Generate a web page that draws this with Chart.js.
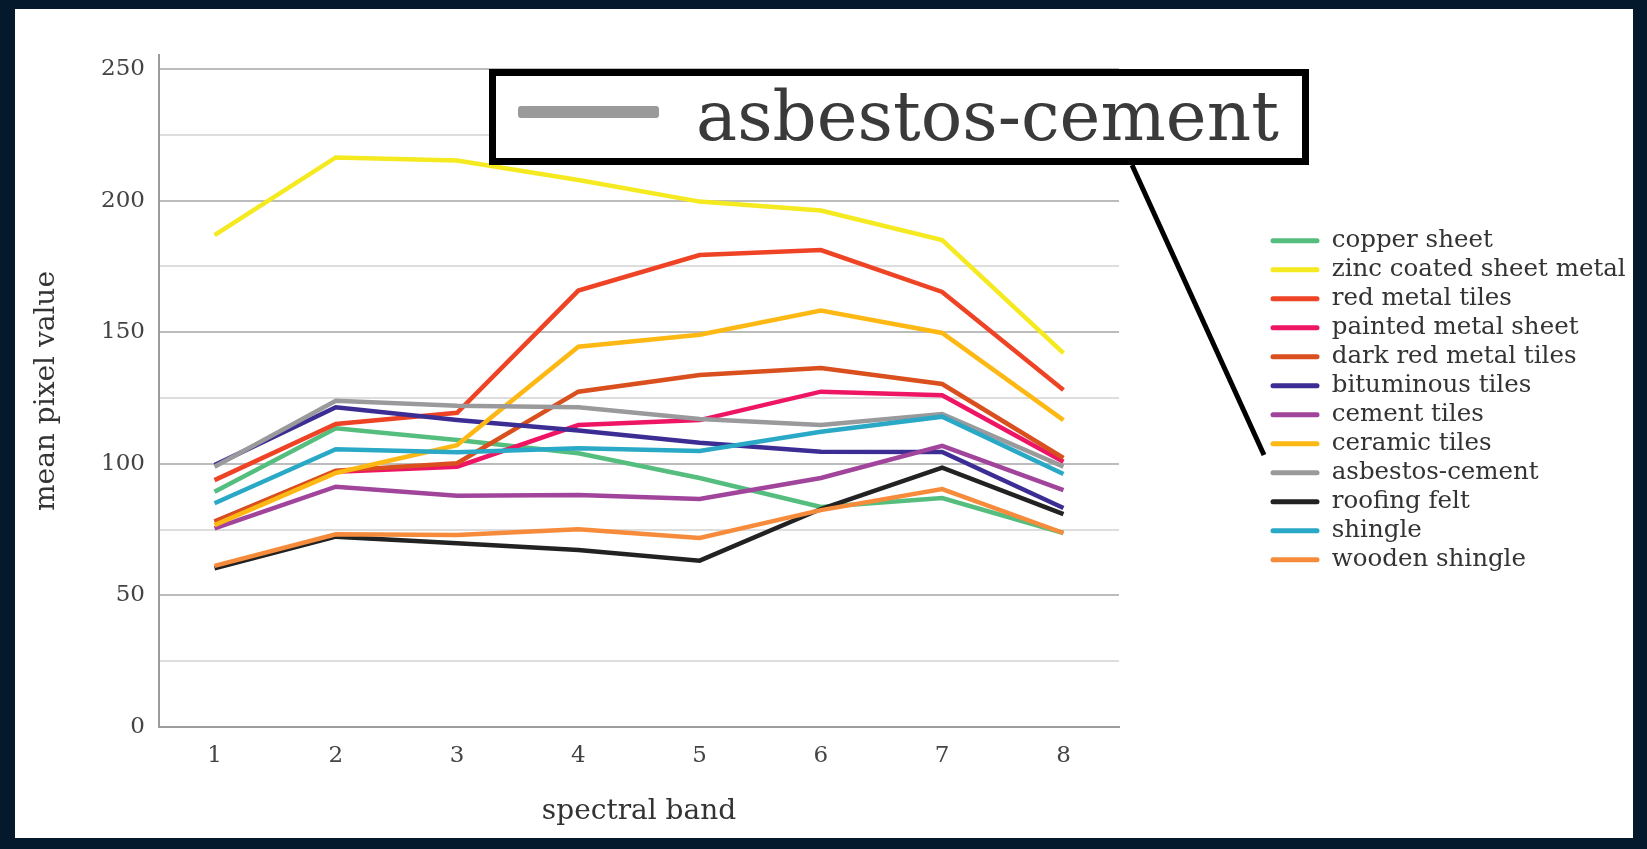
<!DOCTYPE html>
<html>
<head>
<meta charset="utf-8">
<script src="https://cdn.jsdelivr.net/npm/chart.js@4.4.1/dist/chart.umd.min.js"></script>
<style>
  html, body { margin: 0; padding: 0; overflow: hidden; background: #05192c; }
  #card { position: absolute; left: 15px; top: 9px; width: 1618px; height: 829px; background: #fff; }
  #chart { position: absolute; left: 0; top: 0; }
  #callout {
    position: absolute; left: 489px; top: 69px; width: 820px; height: 96px;
    box-sizing: border-box; border: 7px solid #000; background: #fff;
  }
  #swatch { position: absolute; left: 518px; top: 106px; width: 141px; height: 12px; background: #9a9a9a; border-radius: 3px; }
  #calloutText {
    position: absolute; left: 696px; top: 82px; font-family: "DejaVu Serif", serif;
    font-size: 69px; line-height: 69px; color: #3a3a3a; white-space: nowrap;
  }
  #pointer { position: absolute; left: 0; top: 0; }
</style>
</head>
<body>
<div id="card"></div>
<canvas id="chart" width="1647" height="849"></canvas>
<div id="callout"></div>
<div id="swatch"></div>
<div id="calloutText">asbestos-cement</div>
<svg id="pointer" width="1647" height="849"><line x1="1132" y1="165" x2="1264" y2="455" stroke="#000" stroke-width="5"/></svg>
<script>
// spectral bands on the x axis
const bands = [1, 2, 3, 4, 5, 6, 7, 8];
// y ticks (labels only every 50)
const yTicks = [0, 25, 50, 75, 100, 125, 150, 175, 200, 225, 250];

const names = ['copper sheet', 'zinc coated sheet metal', 'red metal tiles', 'painted metal sheet',
  'dark red metal tiles', 'bituminous tiles', 'cement tiles', 'ceramic tiles',
  'asbestos-cement', 'roofing felt', 'shingle', 'wooden shingle'];
const colors = ['#55be7e', '#f5e91f', '#ee4325', '#ee1664', '#d94f1e', '#3b2d94',
  '#a1449b', '#fdb813', '#9a9a9c', '#222222', '#2aa9c7', '#f68c3b'];

// mean pixel values per band
const copperSheet = [89.4, 113.5, 109, 104, 94.6, 83.6, 87, 73.7];
const zincSheet = [186.9, 216.4, 215.2, 207.8, 199.6, 196.2, 185, 142];
const redMetalTiles = [93.8, 115.1, 119.4, 165.8, 179.3, 181.2, 165.3, 128];
const paintedSheet = [78, 97, 98.9, 114.7, 116.6, 127.4, 126, 100.8];
const darkRedTiles = [78, 97.4, 100.2, 127.4, 133.7, 136.4, 130.3, 102.2];
const bituminousTiles = [99.5, 121.5, 116.6, 112.6, 108, 104.6, 104.5, 83.2];
const cementTiles = [75.5, 91.3, 87.9, 88.1, 86.6, 94.6, 106.8, 90];
const ceramicTiles = [76.7, 96.5, 107.1, 144.5, 149, 158.2, 149.7, 116.6];
const asbestosCement = [98.9, 123.9, 122, 121.5, 117, 114.7, 118.9, 98.9];
const roofingFelt = [60.3, 72.3, 69.8, 67.2, 63.2, 82.8, 98.5, 80.9];
const shingle = [85, 105.5, 104.4, 105.9, 104.9, 112.2, 117.9, 96.1];
const woodenShingle = [61.2, 73.2, 72.9, 75.1, 71.8, 82.4, 90.4, 73.7];

const series = [copperSheet, zincSheet, redMetalTiles, paintedSheet, darkRedTiles, bituminousTiles,
  cementTiles, ceramicTiles, asbestosCement, roofingFelt, shingle, woodenShingle];

const serif = 'DejaVu Serif';

// put the legend where the original has it
const legendSpot = {
  id: 'legendSpot',
  beforeLayout(chart) {
    const lg = chart.legend;
    if (lg && !lg._patched) {
      const fit = lg.fit;
      lg.fit = function () { fit.call(this); this.width = 528; };
      lg._patched = true;
    }
  },
  afterLayout(chart) {
    const lg = chart.legend;
    const w = lg.width, h = lg.height;
    lg.left = 1266; lg.right = lg.left + w;
    lg.top = 224; lg.bottom = lg.top + h;
  }
};

const ctx = document.getElementById('chart').getContext('2d');
new Chart(ctx, {
  type: 'line',
  data: {
    datasets: series.map((vals, i) => ({
      label: names[i],
      data: vals.map((v, j) => ({x: bands[j], y: v})),
      borderColor: colors[i],
      backgroundColor: colors[i],
      borderWidth: 4.5,
      pointRadius: 0,
      tension: 0,
      fill: false,
      order: series.length - i
    }))
  },
  options: {
    responsive: false,
    animation: false,
    layout: {padding: {top: 55, right: 0, bottom: 0, left: 0}},
    plugins: {
      tooltip: {enabled: false},
      legend: {
        position: 'right',
        align: 'start',
        labels: {
          boxWidth: 49,
          boxHeight: 5,
          padding: 4.5,
          color: '#333',
          font: {family: serif, size: 24.5},
          generateLabels: chart => chart.data.datasets.map((ds, i) => ({
            text: ds.label,
            fillStyle: ds.borderColor,
            strokeStyle: ds.borderColor,
            lineWidth: 0,
            borderRadius: 2.5,
            fontColor: '#333',
            hidden: false,
            datasetIndex: i
          })),
          useBorderRadius: true,
          borderRadius: 2.5
        }
      }
    },
    scales: {
      x: {
        type: 'linear',
        min: 0.542,
        max: 8.458,
        afterBuildTicks: s => { s.ticks = bands.map(v => ({value: v})); },
        afterFit: s => { s.height = 122; },
        grid: {display: false},
        border: {display: true, color: '#9c9c9c', width: 2},
        ticks: {autoSkip: false, maxRotation: 0, padding: 7, color: '#444', font: {family: serif, size: 23}},
        title: {display: true, text: 'spectral band', color: '#333', font: {family: serif, size: 28},
          padding: {top: 0, bottom: 20}}
      },
      y: {
        min: 0,
        max: 255.3,
        afterBuildTicks: s => { s.ticks = yTicks.map(v => ({value: v})); },
        afterFit: s => { s.width = 159; },
        grid: {
          drawTicks: false,
          lineWidth: 2,
          color: c => (c.tick && c.tick.value % 50 === 0) ? '#bcbcbc' : '#dddddd'
        },
        border: {color: '#9c9c9c', width: 2},
        ticks: {
          autoSkip: false,
          padding: 14,
          color: '#444',
          font: {family: serif, size: 23},
          callback: v => (v % 50 === 0 ? v : '')
        },
        title: {display: true, text: 'mean pixel value', color: '#333', font: {family: serif, size: 28},
          padding: {top: 30, bottom: 0}}
      }
    }
  },
  plugins: [legendSpot]
});
</script>
</body>
</html>
